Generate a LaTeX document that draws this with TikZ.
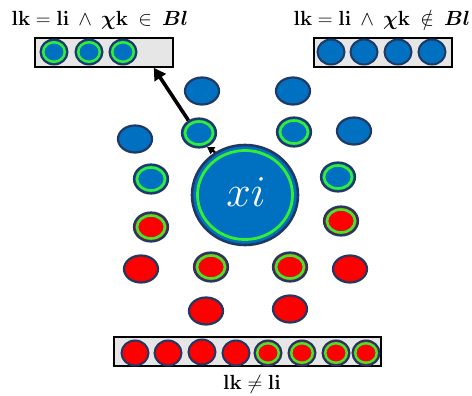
\RequirePackage{fix-cm}
\documentclass[tikz,border=0pt]{standalone}
\usepackage{amsmath,amssymb}
\usetikzlibrary{shapes.geometric,arrows.meta}
\definecolor{bblue}{HTML}{0070C0}
\definecolor{navy}{HTML}{203864}
\definecolor{rgreen}{HTML}{33EE33}
\definecolor{boxgray}{HTML}{E6E6E6}
\tikzset{
  ball/.style={ellipse,draw=navy,line width=2.2pt,inner sep=0pt,minimum width=34pt,minimum height=27pt},
  rball/.style={ball,minimum height=29pt},
  ringin/.style={ellipse,draw=rgreen,line width=2.6pt,inner sep=0pt,minimum width=28pt,minimum height=23pt},
  sball/.style={ellipse,draw=navy,line width=2pt,inner sep=0pt,minimum width=27pt,minimum height=25pt},
  sringin/.style={ellipse,draw=rgreen,line width=2.4pt,inner sep=0pt,minimum width=21.5pt,minimum height=19.5pt},
  holder/.style={draw=black,line width=1.4pt,fill=boxgray,inner sep=0pt},
  lbl/.style={font=\fontsize{20.5}{23}\selectfont,inner sep=0pt},
  arr/.style={-{Triangle[length=12pt,width=13pt]},line width=3.6pt},
  sarr/.style={-{Triangle[length=7pt,width=8pt]},line width=2.4pt}
}
\newcommand\pball[3]{\node[ball,fill=#3] (#1) at (#2) {};}
\newcommand\gball[3]{\node[rball,fill=#3] (#1) at (#2) {};\node[ringin] (#1r) at (#1.center) {};}
\newcommand\spball[3]{\node[sball,fill=#3] (#1) at (#2) {};}
\newcommand\sgball[3]{\node[sball,fill=#3] (#1) at (#2) {};\node[sringin] (#1r) at (#1.center) {};}
\begin{document}
\begin{tikzpicture}[x=1pt,y=-1pt]
\useasboundingbox (0,0) rectangle (472,396);
% labels
\node[lbl] (labL) at (100,20) {$\mathbf{lk}=\mathbf{li}\mkern4mu\wedge\mkern4mu\boldsymbol{\chi}\mathbf{k}\mkern4mu\in\mkern4mu\boldsymbol{Bl}$};
\node[lbl] (labR) at (382,20) {$\mathbf{lk}=\mathbf{li}\mkern4mu\wedge\mkern4mu\boldsymbol{\chi}\mathbf{k}\mkern4mu\notin\mkern4mu\boldsymbol{Bl}$};
\node[lbl] (labB) at (252,384) {$\mathbf{lk}\neq\mathbf{li}$};
% holders
\node[holder,minimum width=138pt,minimum height=29pt] (boxL) at (104,52.5) {};
\node[holder,minimum width=138pt,minimum height=29pt] (boxR) at (383,52.5) {};
\node[holder,minimum width=267pt,minimum height=29pt] (boxB) at (247.5,351.5) {};
% top-left box balls
\sgball{a1}{54,52}{bblue}
\sgball{a2}{89,52}{bblue}
\sgball{a3}{123,52}{bblue}
% top-right box balls
\spball{b1}{331,52}{bblue}
\spball{b2}{364,52}{bblue}
\spball{b3}{398,52}{bblue}
\spball{b4}{432,52}{bblue}
% bottom box balls
\spball{c1}{135,353}{red}
\spball{c2}{168,353}{red}
\spball{c3}{202,352}{red}
\spball{c4}{236,353}{red}
\sgball{c5}{268,353}{red}
\sgball{c6}{302,353}{red}
\sgball{c7}{336,353}{red}
\sgball{c8}{366,353}{red}
% scatter
\pball{s1}{202,91}{bblue}
\pball{s2}{293,91}{bblue}
\pball{s3}{135,139}{bblue}
\gball{g1}{199,133}{bblue}
\gball{g2}{294,132}{bblue}
\pball{s4}{354,131}{bblue}
\gball{g3}{151,179}{bblue}
\gball{g4}{338,177}{bblue}
\gball{g5}{151,227}{red}
\gball{g6}{341,221}{red}
\pball{r1}{141,269}{red}
\gball{g7}{211,267}{red}
\gball{g8}{290,267}{red}
\pball{r2}{350,269}{red}
\pball{r3}{206,311}{red}
\pball{r4}{290,309}{red}
% center
\node[ellipse,draw=navy,line width=2.6pt,fill=bblue,inner sep=0pt,minimum width=106pt,minimum height=100pt] (xi) at (245,195) {};
\node[ellipse,draw=rgreen,line width=2.8pt,inner sep=0pt,minimum width=95pt,minimum height=89pt] (xir) at (xi.center) {};
\node[text=white,font=\fontsize{44}{46}\selectfont,inner sep=0pt] (xit) at (246,192) {$xi$};
% arrows
\draw[arr] (g1.130) -- ([xshift=-20pt]boxL.south east);
\draw[sarr] (xi.125) -- (g1.-60);
\end{tikzpicture}
\end{document}
